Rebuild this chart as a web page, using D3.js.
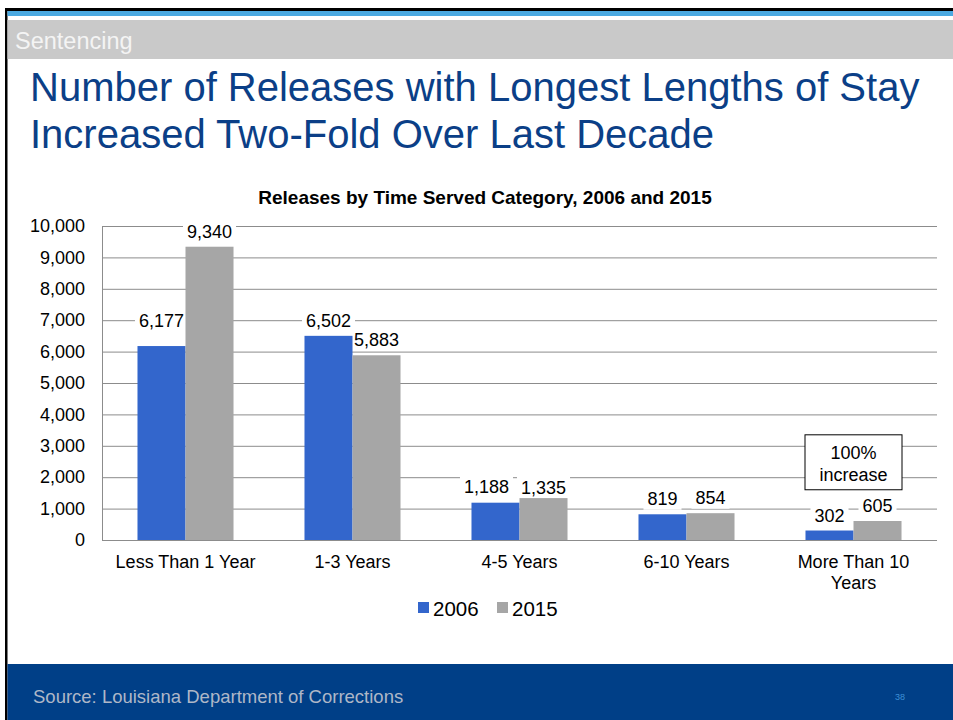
<!DOCTYPE html>
<html>
<head>
<meta charset="utf-8">
<script src="https://cdn.jsdelivr.net/npm/d3@7"></script>
<style>
  html, body { margin: 0; padding: 0; background: #fff; }
  svg { display: block; font-family: "Liberation Sans", Arial, Helvetica, sans-serif; }
</style>
</head>
<body>
<svg id="slide" width="953" height="720"></svg>
<script>
// Releases by time-served category
const categories = ["Less Than 1 Year", "1-3 Years", "4-5 Years", "6-10 Years", "More Than 10 Years"];
const seriesNames = ["2006", "2015"];
const releases2006 = [6177, 6502, 1188, 819, 302];
const releases2015 = [9340, 5883, 1335, 854, 605];
const yTickValues = [0, 1000, 2000, 3000, 4000, 5000, 6000, 7000, 8000, 9000, 10000];

const seriesColors = { "2006": "#3366cc", "2015": "#a6a6a6" };

// small hand nudges for data labels that would otherwise crowd each other
const labelNudge = {
  "Less Than 1 Year|2006": { dx: 0, dy: -10 },
  "4-5 Years|2006": { dx: -9, dy: -1 },
  "4-5 Years|2015": { dx: 0, dy: 5 }
};

const rows = categories.map((c, i) => ({
  category: c,
  values: [
    { series: "2006", value: releases2006[i] },
    { series: "2015", value: releases2015[i] }
  ]
}));

const svg = d3.select("#slide");
const W = 953, H = 720;

// ---- slide frame ----
svg.append("rect").attr("x", 0).attr("y", 0).attr("width", W).attr("height", H).attr("fill", "#fff");
svg.append("rect").attr("x", 5).attr("y", 8).attr("width", W - 5).attr("height", 3).attr("fill", "#000");
svg.append("rect").attr("x", 5).attr("y", 8).attr("width", 2.5).attr("height", H - 8).attr("fill", "#000");
svg.append("rect").attr("x", 7.5).attr("y", 11).attr("width", W).attr("height", 5).attr("fill", "#4ba9e1");
svg.append("rect").attr("x", 7.5).attr("y", 20).attr("width", W).attr("height", 39).attr("fill", "#c9c9c9");
svg.append("text").attr("x", 15).attr("y", 49).attr("fill", "#f4f4f4")
  .attr("font-size", 23.5).text("Sentencing");

// ---- headline ----
const headline = svg.append("text").attr("fill", "#0b3f87").attr("font-size", 40);
headline.append("tspan").attr("x", 30).attr("y", 101).text("Number of Releases with Longest Lengths of Stay");
headline.append("tspan").attr("x", 30).attr("y", 148).text("Increased Two-Fold Over Last Decade");

// ---- footer ----
svg.append("rect").attr("x", 7.5).attr("y", 664).attr("width", W).attr("height", H - 664).attr("fill", "#003f87");
svg.append("text").attr("x", 33).attr("y", 703).attr("fill", "#aeb7c7")
  .attr("font-size", 18.5).text("Source: Louisiana Department of Corrections");
svg.append("text").attr("x", 900).attr("y", 700).attr("fill", "#3d8fd6")
  .attr("font-size", 9).attr("text-anchor", "middle").text("38");

// ---- chart ----
const plot = { left: 102, right: 937, top: 226, bottom: 540 };

svg.append("text").attr("x", 485).attr("y", 204).attr("text-anchor", "middle")
  .attr("font-size", 19).attr("font-weight", "bold").attr("fill", "#000")
  .text("Releases by Time Served Category, 2006 and 2015");

const x = d3.scaleBand().domain(categories).range([plot.left, plot.right])
  .paddingInner(0.425).paddingOuter(0.2125);
const xSeries = d3.scaleBand().domain(seriesNames).range([0, x.bandwidth()]);
const y = d3.scaleLinear().domain([0, 10000]).range([plot.bottom, plot.top]);

// gridlines
svg.append("g").selectAll("line").data(yTickValues).join("line")
  .attr("x1", plot.left).attr("x2", plot.right)
  .attr("y1", d => y(d) + 0.5).attr("y2", d => y(d) + 0.5)
  .attr("stroke", "#8c8c8c").attr("stroke-width", 1);

// vertical value axis line
svg.append("line").attr("x1", plot.left + 0.5).attr("x2", plot.left + 0.5)
  .attr("y1", plot.top).attr("y2", plot.bottom + 0.5)
  .attr("stroke", "#8c8c8c").attr("stroke-width", 1);

// y axis labels
const yAxis = svg.append("g").attr("transform", `translate(${plot.left},0)`)
  .call(d3.axisLeft(y).tickValues(yTickValues).tickFormat(d3.format(",")).tickSize(0).tickPadding(17));
yAxis.select(".domain").remove();
yAxis.selectAll("text").attr("font-size", 18).attr("fill", "#000")
  .attr("font-family", "Liberation Sans, Arial, sans-serif");

// label background boxes sit under the bars, label text above them
const boxLayer = svg.append("g");
const barLayer = svg.append("g");
const textLayer = svg.append("g");

// bars
const groups = barLayer.selectAll("g").data(rows).join("g")
  .attr("transform", d => `translate(${x(d.category)},0)`);

groups.selectAll("rect").data(d => d.values).join("rect")
  .attr("x", d => xSeries(d.series))
  .attr("width", xSeries.bandwidth())
  .attr("y", d => y(d.value))
  .attr("height", d => y(0) - y(d.value))
  .attr("fill", d => seriesColors[d.series]);

// data labels on white boxes
const fmt = d3.format(",");
rows.forEach(r => {
  r.values.forEach(v => {
    const nudge = labelNudge[r.category + "|" + v.series] || { dx: 0, dy: 0 };
    const cx = x(r.category) + xSeries(v.series) + xSeries.bandwidth() / 2 + nudge.dx;
    const cy = y(v.value) - 15.5 + nudge.dy;
    const t = textLayer.append("text").attr("x", cx).attr("y", cy + 6.5)
      .attr("text-anchor", "middle").attr("font-size", 18).attr("fill", "#000")
      .text(fmt(v.value));
    const bb = t.node().getBBox();
    boxLayer.append("rect").attr("x", bb.x - 4).attr("y", cy - 11)
      .attr("width", bb.width + 8).attr("height", 22).attr("fill", "#fff");
  });
});

// category axis labels
const xAxis = svg.append("g").attr("transform", `translate(0,${plot.bottom})`)
  .call(d3.axisBottom(x).tickSize(0).tickPadding(0));
xAxis.select(".domain").remove();
xAxis.selectAll("text").attr("font-size", 18).attr("fill", "#000")
  .attr("font-family", "Liberation Sans, Arial, sans-serif")
  .attr("dy", null).attr("y", 27.5)
  .each(function (d) {
    const el = d3.select(this);
    const words = d.split(" ");
    el.text(null);
    let line = [];
    let tspan = el.append("tspan").attr("x", 0).attr("y", 27.5);
    let lineNo = 0;
    words.forEach(w => {
      line.push(w);
      tspan.text(line.join(" "));
      if (tspan.node().getComputedTextLength() > 150 && line.length > 1) {
        line.pop();
        tspan.text(line.join(" "));
        line = [w];
        lineNo++;
        tspan = el.append("tspan").attr("x", 0).attr("y", 27.5 + lineNo * 21).text(w);
      }
    });
  });

// annotation box on the longest-stay group
const lastCat = categories[categories.length - 1];
const boxCx = x(lastCat) + x.bandwidth() / 2;
const boxTop = y(3350), boxBottom = y(1600);
svg.append("rect").attr("x", boxCx - 48.5).attr("y", boxTop)
  .attr("width", 97).attr("height", boxBottom - boxTop)
  .attr("fill", "#fff").attr("stroke", "#000").attr("stroke-width", 1);
const note = svg.append("text").attr("text-anchor", "middle").attr("font-size", 18).attr("fill", "#000");
note.append("tspan").attr("x", boxCx).attr("y", boxTop + 24).text("100%");
note.append("tspan").attr("x", boxCx).attr("y", boxTop + 46).text("increase");

// legend
const legend = svg.append("g").attr("transform", "translate(418,602)");
const legendX = { "2006": 0, "2015": 79 };
seriesNames.forEach(s => {
  const g = legend.append("g").attr("transform", `translate(${legendX[s]},0)`);
  g.append("rect").attr("width", 11).attr("height", 11).attr("fill", seriesColors[s]);
  g.append("text").attr("x", 15).attr("y", 14).attr("font-size", 20.5).attr("fill", "#000").text(s);
});
</script>
</body>
</html>
